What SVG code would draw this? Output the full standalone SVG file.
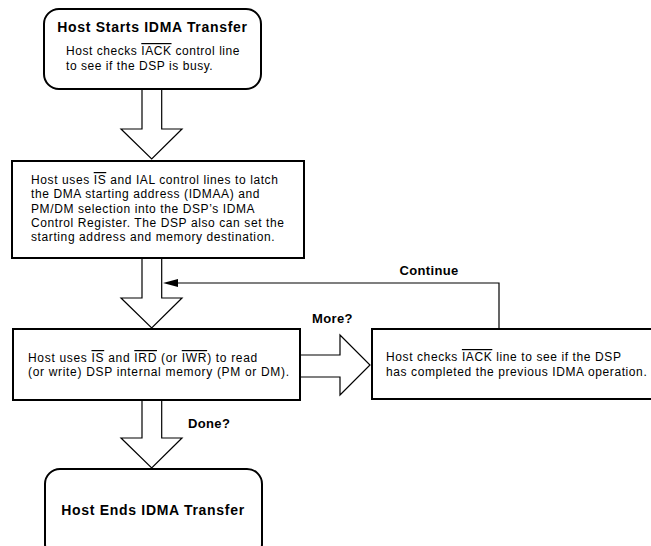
<svg xmlns="http://www.w3.org/2000/svg" width="651" height="546" viewBox="0 0 651 546">
<style>
.box{fill:#fff;stroke:#000;stroke-width:2}
.arr{fill:#fff;stroke:#000;stroke-width:1.2;stroke-linejoin:miter}
.t{font-family:"Liberation Sans",Arial,sans-serif;font-size:12px;fill:#000}
.b{font-family:"Liberation Sans",Arial,sans-serif;font-size:14px;font-weight:bold;fill:#000;letter-spacing:0.7px}
.lb{font-family:"Liberation Sans",Arial,sans-serif;font-size:13px;font-weight:bold;fill:#000;letter-spacing:0.35px}
.ov{text-decoration:overline}
</style>
<rect width="651" height="546" fill="#fff"/>
<g id="connectors">
<path class="arr" d="M142,89 V129 H121 L151.7,159 L182,129 H161.7 V89"/>
<path class="arr" d="M142,258 V298 H121 L151.7,328 L182,298 H161.7 V258"/>
<path class="arr" d="M142,400 V438 H121 L151.7,468 L182,438 H161.7 V400"/>
<path class="arr" d="M300,355 H340 V335 L370,365 L340,395 V377 H300"/>
<path d="M499,329 V283 H175" fill="none" stroke="#000" stroke-width="1.2"/>
<path d="M178,279 L163,283 L178,287 Z" fill="#000"/>
<text class="lb" x="429" y="275" text-anchor="middle">Continue</text>
<text class="lb" x="312" y="323">More?</text>
<text class="lb" x="188" y="428">Done?</text>
</g>
<g id="start">
<rect class="box" x="44" y="9" width="217" height="80" rx="15" ry="15"/>
<text class="b" x="152.5" y="32" text-anchor="middle">Host Starts IDMA Transfer</text>
<text class="t" x="66" y="55" letter-spacing="0.55">Host checks <tspan class="ov">IACK</tspan> control line</text>
<text class="t" x="66" y="70" letter-spacing="0.55">to see if the DSP is busy.</text>
</g>
<g id="latch" letter-spacing="0.6">
<rect class="box" x="12" y="161" width="292" height="97"/>
<text class="t" x="31" y="184">Host uses <tspan class="ov">IS</tspan> and IAL control lines to latch</text>
<text class="t" x="31" y="198.3">the DMA starting address (IDMAA) and</text>
<text class="t" x="31" y="212.6">PM/DM selection into the DSP’s IDMA</text>
<text class="t" x="31" y="226.9">Control Register. The DSP also can set the</text>
<text class="t" x="31" y="241.2">starting address and memory destination.</text>
</g>
<g id="rw" letter-spacing="0.68">
<rect class="box" x="13" y="329" width="287" height="71"/>
<text class="t" x="28" y="362">Host uses <tspan class="ov">IS</tspan> and <tspan class="ov">IRD</tspan> (or <tspan class="ov">IWR</tspan>) to read</text>
<text class="t" x="28" y="376">(or write) DSP internal memory (PM or DM).</text>
</g>
<g id="check" letter-spacing="0.6">
<rect class="box" x="372" y="329" width="290" height="70"/>
<text class="t" x="386" y="361">Host checks <tspan class="ov">IACK</tspan> line to see if the DSP</text>
<text class="t" x="386" y="376">has completed the previous IDMA operation.</text>
</g>
<g id="end">
<rect class="box" x="45" y="469" width="217" height="90" rx="15" ry="15"/>
<text class="b" x="153" y="515" text-anchor="middle">Host Ends IDMA Transfer</text>
</g>
</svg>
